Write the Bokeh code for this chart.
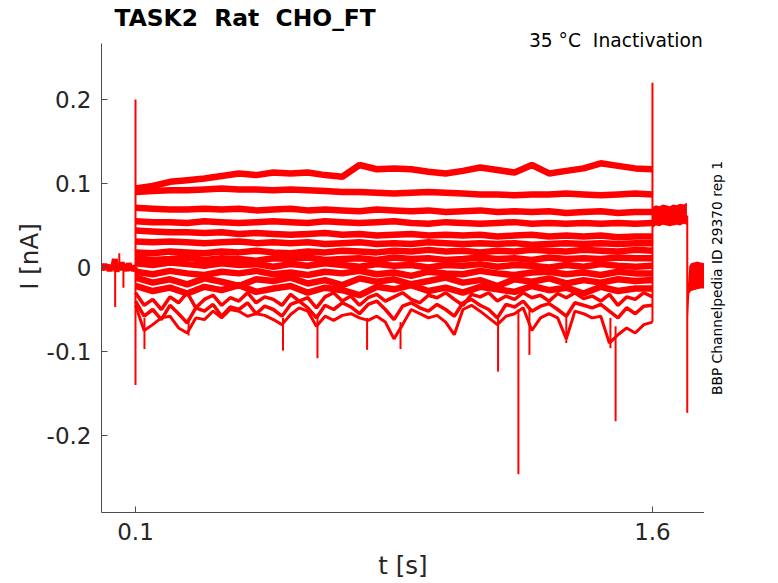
from math import pi
from bokeh.plotting import figure
from bokeh.layouts import row
from bokeh.models import Range1d, Label, FixedTicker, ColumnDataSource
from bokeh.embed import file_html
from bokeh.resources import INLINE

# sample times [s]
t_pre = [round(0.005 * i, 3) for i in range(21)]
t_step = [round(0.1 + 0.05 * i, 3) for i in range(31)]
t_fine = [round(0.1 + 0.025 * i, 3) for i in range(61)]
t_post = [1.600, 1.610, 1.620, 1.630, 1.640, 1.650, 1.660, 1.670, 1.680, 1.690, 1.700]
t_tail = [1.703, 1.707, 1.712, 1.720, 1.730, 1.740, 1.752]

# holding current before the step [nA]
pre_i = [0.002, -0.003, 0.004, -0.002, 0.003, -0.004, 0.002, -0.001, 0.010, -0.005, 0.004,
         -0.003, 0.006, -0.002, 0.003, -0.004, 0.005, -0.003, 0.002, -0.004, 0.001]

# sweeps during the step (coarse sampling) [nA]
sweeps = [
    [0.094, 0.097, 0.102, 0.104, 0.106, 0.109, 0.112, 0.110, 0.113, 0.112, 0.113, 0.110, 0.108, 0.122, 0.117, 0.118,
     0.117, 0.114, 0.112, 0.115, 0.119, 0.116, 0.113, 0.122, 0.112, 0.115, 0.118, 0.124, 0.121, 0.118, 0.117],
    [0.090, 0.091, 0.092, 0.092, 0.093, 0.094, 0.093, 0.093, 0.092, 0.093, 0.092, 0.091, 0.090, 0.090, 0.089, 0.088,
     0.089, 0.090, 0.089, 0.088, 0.087, 0.087, 0.086, 0.087, 0.087, 0.088, 0.087, 0.086, 0.087, 0.088, 0.087],
    [0.071, 0.070, 0.069, 0.069, 0.070, 0.069, 0.070, 0.068, 0.069, 0.070, 0.068, 0.069, 0.068, 0.067, 0.069, 0.068,
     0.067, 0.068, 0.066, 0.067, 0.068, 0.066, 0.067, 0.066, 0.067, 0.065, 0.066, 0.067, 0.065, 0.066, 0.066],
    [0.055, 0.054, 0.054, 0.053, 0.055, 0.054, 0.053, 0.054, 0.055, 0.054, 0.053, 0.055, 0.054, 0.053, 0.054, 0.055,
     0.053, 0.052, 0.054, 0.053, 0.052, 0.053, 0.054, 0.052, 0.053, 0.052, 0.053, 0.052, 0.053, 0.052, 0.053],
    [0.044, 0.043, 0.042, 0.042, 0.041, 0.042, 0.040, 0.041, 0.040, 0.039, 0.040, 0.041, 0.039, 0.040, 0.038, 0.039,
     0.040, 0.038, 0.039, 0.038, 0.039, 0.037, 0.038, 0.039, 0.037, 0.038, 0.037, 0.038, 0.036, 0.037, 0.037],
    [0.031, 0.030, 0.031, 0.030, 0.029, 0.030, 0.031, 0.029, 0.030, 0.029, 0.030, 0.028, 0.029, 0.030, 0.028, 0.029,
     0.028, 0.030, 0.029, 0.028, 0.029, 0.028, 0.029, 0.027, 0.028, 0.029, 0.028, 0.029, 0.028, 0.029, 0.029],
    [0.018, 0.017, 0.019, 0.018, 0.017, 0.019, 0.018, 0.020, 0.018, 0.017, 0.019, 0.018, 0.020, 0.019, 0.018, 0.020,
     0.019, 0.021, 0.019, 0.020, 0.018, 0.020, 0.019, 0.021, 0.020, 0.019, 0.021, 0.020, 0.019, 0.021, 0.020],
    [0.011, 0.009, 0.010, 0.012, 0.009, 0.011, 0.010, 0.008, 0.011, 0.010, 0.012, 0.009, 0.010, 0.011, 0.009, 0.012,
     0.010, 0.011, 0.009, 0.010, 0.012, 0.010, 0.011, 0.009, 0.012, 0.010, 0.011, 0.010, 0.012, 0.011, 0.011],
    [0.005, 0.003, 0.006, 0.004, 0.002, 0.005, 0.003, 0.004, 0.001, 0.004, 0.002, 0.005, 0.003, 0.001, 0.004, 0.002,
     0.003, 0.000, 0.003, 0.002, 0.004, 0.001, 0.003, 0.002, 0.000, 0.003, 0.001, 0.004, 0.002, 0.001, 0.002],
    [-0.005, -0.008, -0.004, -0.007, -0.009, -0.005, -0.007, -0.004, -0.008, -0.006, -0.009, -0.005, -0.007, -0.004,
     -0.008, -0.006, -0.010, -0.005, -0.007, -0.008, -0.004, -0.007, -0.009, -0.006, -0.005, -0.008, -0.006, -0.009,
     -0.005, -0.007, -0.007],
    [-0.012, -0.018, -0.014, -0.020, -0.013, -0.017, -0.022, -0.014, -0.016, -0.012, -0.019, -0.015, -0.021, -0.013,
     -0.017, -0.014, -0.020, -0.016, -0.012, -0.018, -0.015, -0.022, -0.014, -0.017, -0.013, -0.019, -0.015, -0.018,
     -0.014, -0.016, -0.015],
    [-0.022, -0.028, -0.024, -0.031, -0.023, -0.027, -0.021, -0.029, -0.025, -0.022, -0.030, -0.024, -0.027, -0.033,
     -0.023, -0.026, -0.021, -0.028, -0.024, -0.030, -0.023, -0.026, -0.029, -0.022, -0.027, -0.024, -0.031, -0.023,
     -0.028, -0.025, -0.025],
]

# the noisiest sweeps (fine sampling) [nA]
sweep_low1 = [-0.030, -0.045, -0.038, -0.050, -0.035, -0.042, -0.030, -0.048, -0.038, -0.033, -0.045, -0.036, -0.040,
              -0.030, -0.042, -0.035, -0.038, -0.045, -0.032, -0.040, -0.036, -0.048, -0.035, -0.030, -0.040, -0.034,
              -0.045, -0.036, -0.032, -0.040, -0.035, -0.030, -0.038, -0.042, -0.033, -0.036, -0.030, -0.038, -0.045,
              -0.032, -0.035, -0.030, -0.040, -0.034, -0.038, -0.030, -0.036, -0.033, -0.040, -0.031, -0.036, -0.030,
              -0.037, -0.034, -0.040, -0.032, -0.045, -0.035, -0.038, -0.030, -0.035]
sweep_low2 = [-0.040, -0.058, -0.050, -0.062, -0.045, -0.055, -0.066, -0.048, -0.052, -0.044, -0.058, -0.047, -0.050,
              -0.042, -0.055, -0.046, -0.050, -0.058, -0.044, -0.040, -0.048, -0.060, -0.045, -0.050, -0.042, -0.047,
              -0.055, -0.044, -0.040, -0.050, -0.062, -0.046, -0.042, -0.048, -0.052, -0.044, -0.050, -0.058, -0.042,
              -0.038, -0.045, -0.050, -0.060, -0.044, -0.047, -0.040, -0.052, -0.046, -0.043, -0.050, -0.058, -0.042,
              -0.045, -0.048, -0.044, -0.052, -0.060, -0.048, -0.055, -0.046, -0.045]
sweep_low3 = [-0.045, -0.075, -0.068, -0.060, -0.058, -0.072, -0.078, -0.060, -0.062, -0.052, -0.060, -0.050, -0.052,
              -0.058, -0.055, -0.057, -0.062, -0.068, -0.056, -0.048, -0.052, -0.070, -0.058, -0.063, -0.057, -0.055,
              -0.060, -0.063, -0.058, -0.065, -0.085, -0.068, -0.050, -0.055, -0.060, -0.057, -0.065, -0.080, -0.050,
              -0.045, -0.052, -0.060, -0.068, -0.058, -0.055, -0.048, -0.075, -0.060, -0.055, -0.060, -0.085, -0.052,
              -0.055, -0.060, -0.058, -0.090, -0.080, -0.072, -0.078, -0.068, -0.065]

# narrow transients: time, lowest and highest current [nA]
spike_t = [0.1, 1.6, 1.701, 0.041, 0.053, 0.065, 0.126, 0.254, 0.528, 0.628, 0.772, 0.869, 1.152, 1.211, 1.243,
           1.350, 1.478, 1.493]
spike_lo = [-0.14, -0.065, -0.173, -0.047, 0.0, -0.024, -0.097, -0.081, -0.099, -0.108, -0.098, -0.097, -0.124,
            -0.246, -0.104, -0.090, -0.096, -0.183]
spike_hi = [0.2, 0.22, 0.062, 0.0, 0.017, 0.0, -0.06, -0.06, -0.06, -0.055, -0.06, -0.065, -0.06, -0.05, -0.05,
            -0.055, -0.06, -0.07]

# noise envelope after the step and after the tail transient [nA]
post_hi = [0.072, 0.074, 0.073, 0.075, 0.074, 0.073, 0.075, 0.074, 0.076, 0.075, 0.077]
post_lo = [0.047, 0.050, 0.049, 0.051, 0.050, 0.049, 0.050, 0.051, 0.050, 0.052, 0.051]
tail_hi = [-0.020, 0.002, 0.005, 0.006, 0.007, 0.006, 0.005]
tail_lo = [-0.060, -0.031, -0.028, -0.027, -0.026, -0.025, -0.025]

RED = "#ff0000"
AX = "#4d4d4d"
TXT = "#262626"
FONT = "DejaVu Sans"
NB = "\u00a0"

# the frame runs to the top edge so the texts up there are not clipped;
# the y axis is limited with bounds
p = figure(frame_width=603, frame_height=512, output_backend="svg", toolbar_location=None,
           x_range=Range1d(0.00136, 1.751), y_range=Range1d(-0.29167, 0.31786),
           min_border_left=101, min_border_right=0, min_border_top=0, min_border_bottom=71)
p.outline_line_color = None
p.xgrid.visible = False
p.ygrid.visible = False
p.background_fill_color = "white"
p.border_fill_color = "white"

p.line(t_pre, pre_i, color=RED, line_width=6)
for s in sweeps:
    p.line(t_step, s, color=RED, line_width=6.5)
p.line(t_fine, sweep_low1, color=RED, line_width=3.5)
p.line(t_fine, sweep_low2, color=RED, line_width=3.5)
p.line(t_fine, sweep_low3, color=RED, line_width=3)

src = ColumnDataSource(dict(t=spike_t, lo=spike_lo, hi=spike_hi))
p.segment(x0="t", y0="lo", x1="t", y1="hi", source=src, color=RED, line_width=2)

p.varea(x=t_post, y1=post_lo, y2=post_hi, color=RED)
p.varea(x=t_tail, y1=tail_lo, y2=tail_hi, color=RED)

# axes
p.xaxis.ticker = FixedTicker(ticks=[0.1, 1.6])
p.xaxis.major_label_overrides = {0.1: "0.1", 1.6: "1.6"}
p.yaxis.ticker = FixedTicker(ticks=[-0.2, -0.1, 0, 0.1, 0.2])
p.yaxis.major_label_overrides = {-0.2: "-0.2", -0.1: "-0.1", 0: "0", 0.1: "0.1", 0.2: "0.2"}
p.yaxis.bounds = (-0.29167, 0.2667)
p.xaxis.axis_label = "t [s]"
p.yaxis.axis_label = "I [nA]"
for ax in (p.xaxis[0], p.yaxis[0]):
    ax.axis_line_color = AX
    ax.major_tick_line_color = AX
    ax.major_tick_in = 6
    ax.major_tick_out = 0
    ax.minor_tick_line_color = None
    ax.major_label_text_font = FONT
    ax.major_label_text_font_size = "23px"
    ax.major_label_text_color = TXT
    ax.axis_label_text_font = FONT
    ax.axis_label_text_font_size = "24.5px"
    ax.axis_label_text_font_style = "normal"
    ax.axis_label_text_color = TXT
p.xaxis[0].major_label_standoff = 10
p.xaxis[0].axis_label_standoff = 8
p.yaxis[0].major_label_standoff = 10
p.yaxis[0].axis_label_standoff = 0

p.add_layout(Label(x=0.0391, y=0.2970, text=f"TASK2{NB} Rat{NB} CHO_FT", text_font=FONT,
                   text_font_size="23.4px", text_font_style="bold", text_color="black",
                   text_baseline="alphabetic"))
p.add_layout(Label(x=1.746, y=0.2700, text=f"35 °C{NB} Inactivation", text_font=FONT,
                   text_font_size="18.7px", text_color="black", text_align="right",
                   text_baseline="alphabetic"))

# strip on the right for the record id (pixel coordinates, y from the top)
side = figure(frame_width=74, frame_height=583, output_backend="svg", toolbar_location=None,
              x_range=Range1d(0, 74), y_range=Range1d(583, 0),
              x_axis_location=None, y_axis_location=None,
              min_border_left=0, min_border_right=0, min_border_top=0, min_border_bottom=0)
side.outline_line_color = None
side.grid.visible = False
side.add_layout(Label(x=12, y=277.5, text="BBP Channelpedia ID 29370 rep 1", text_font=FONT,
                      text_font_size="13.8px", text_color="black", angle=pi / 2, text_align="center",
                      text_baseline="alphabetic"))

open("out.html", "w").write(file_html(row(p, side), INLINE))
